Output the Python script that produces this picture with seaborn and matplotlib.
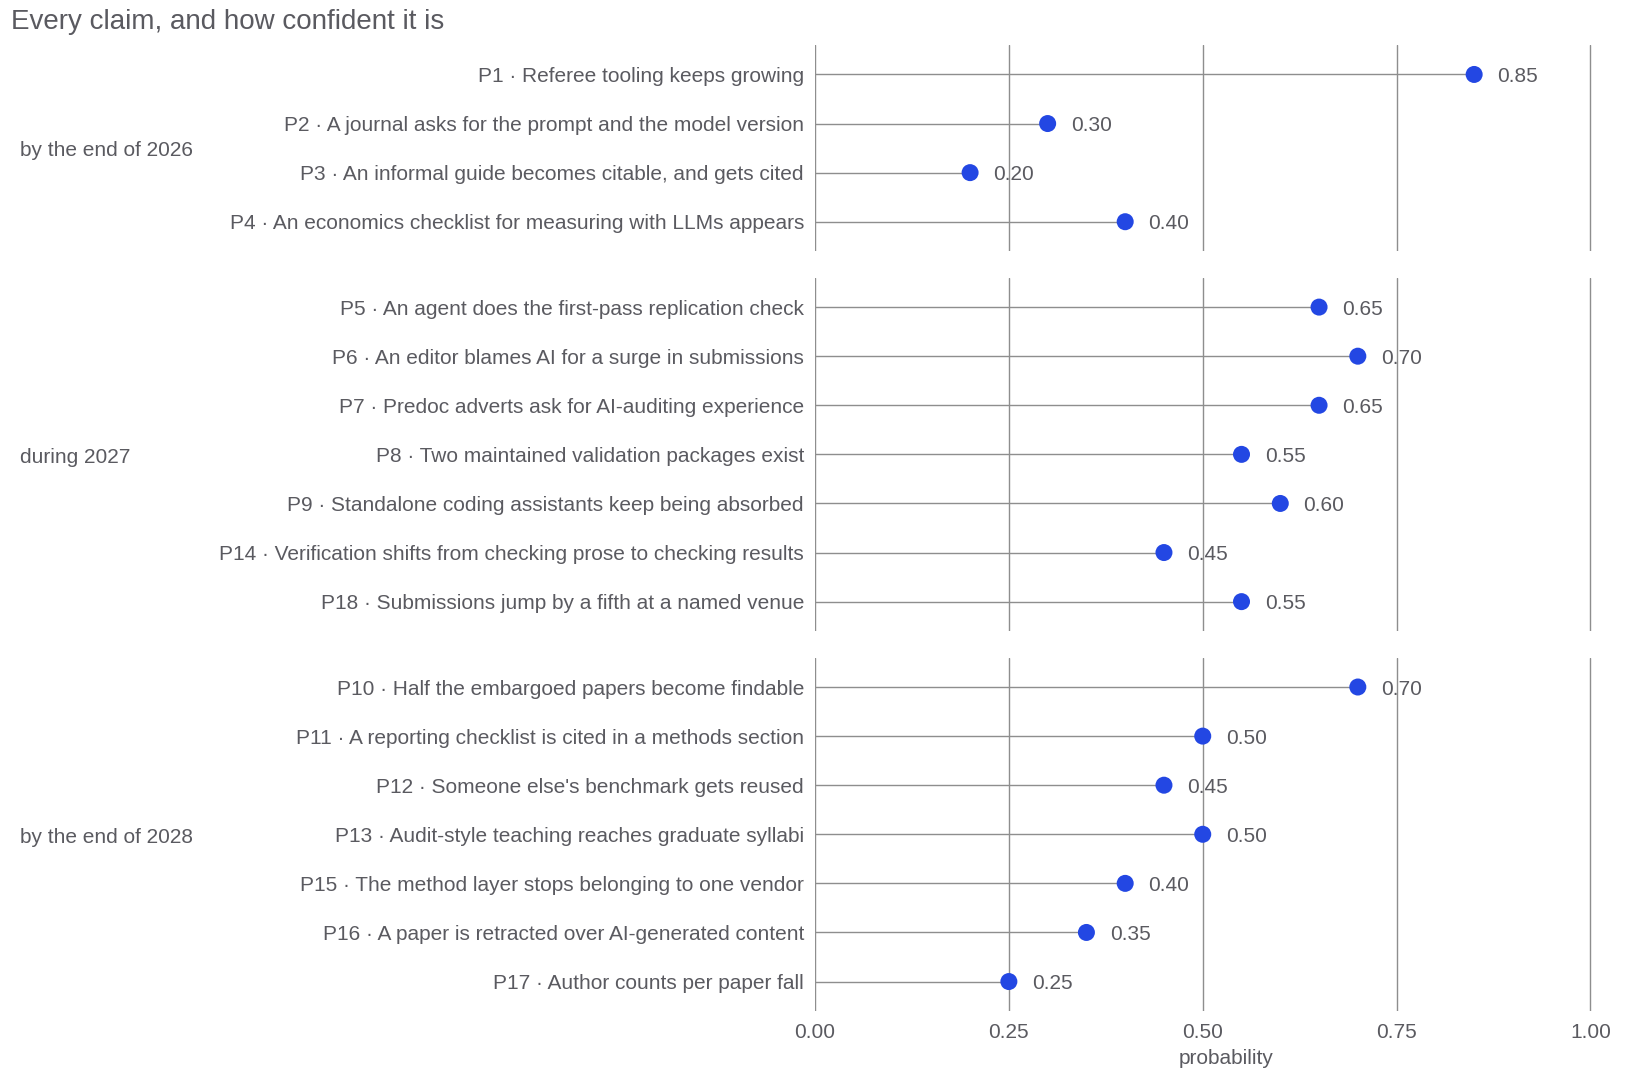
import numpy as np
import pandas as pd
import matplotlib
matplotlib.use("Agg")
import matplotlib.pyplot as plt
import seaborn as sns

# claims, grouped by horizon (order as shown top to bottom)
groups = ["by the end of 2026", "during 2027", "by the end of 2028"]

ids_2026 = ["P1", "P2", "P3", "P4"]
claims_2026 = [
    "Referee tooling keeps growing",
    "A journal asks for the prompt and the model version",
    "An informal guide becomes citable, and gets cited",
    "An economics checklist for measuring with LLMs appears",
]
prob_2026 = [0.85, 0.30, 0.20, 0.40]

ids_2027 = ["P5", "P6", "P7", "P8", "P9", "P14", "P18"]
claims_2027 = [
    "An agent does the first-pass replication check",
    "An editor blames AI for a surge in submissions",
    "Predoc adverts ask for AI-auditing experience",
    "Two maintained validation packages exist",
    "Standalone coding assistants keep being absorbed",
    "Verification shifts from checking prose to checking results",
    "Submissions jump by a fifth at a named venue",
]
prob_2027 = [0.65, 0.70, 0.65, 0.55, 0.60, 0.45, 0.55]

ids_2028 = ["P10", "P11", "P12", "P13", "P15", "P16", "P17"]
claims_2028 = [
    "Half the embargoed papers become findable",
    "A reporting checklist is cited in a methods section",
    "Someone else's benchmark gets reused",
    "Audit-style teaching reaches graduate syllabi",
    "The method layer stops belonging to one vendor",
    "A paper is retracted over AI-generated content",
    "Author counts per paper fall",
]
prob_2028 = [0.70, 0.50, 0.45, 0.50, 0.40, 0.35, 0.25]

x_ticks = [0.0, 0.25, 0.5, 0.75, 1.0]

frames = []
for g, ids, cl, pr in zip(groups,
                          [ids_2026, ids_2027, ids_2028],
                          [claims_2026, claims_2027, claims_2028],
                          [prob_2026, prob_2027, prob_2028]):
    frames.append(pd.DataFrame({
        "group": g,
        "label": [f"{i} \u00b7 {c}" for i, c in zip(ids, cl)],
        "probability": pr,
        "row": np.arange(len(ids)),
    }))
df = pd.concat(frames, ignore_index=True)

sns.set_theme(style="white")
plt.rcParams["font.family"] = ["Liberation Sans", "DejaVu Sans"]

TEXT = "#5a5a60"
GRID = "#8e8e8e"
DOT = "#2347e3"
FS = 15

W, H = 1651, 1075
fig = plt.figure(figsize=(W / 100, H / 100), dpi=100)

counts = [len(ids_2026), len(ids_2027), len(ids_2028)]
heights = [n - 1 + 1.2 for n in counts]
gs = fig.add_gridspec(3, 1, height_ratios=heights,
                      left=815 / W, right=1637 / W,
                      top=1 - 45 / H, bottom=1 - 1011 / H, hspace=0.087)

for k, g in enumerate(groups):
    ax = fig.add_subplot(gs[k])
    sub = df[df["group"] == g]
    ax.hlines(sub["row"], 0, sub["probability"], color=GRID, lw=1.0, zorder=2)
    sns.scatterplot(data=sub, x="probability", y="row", ax=ax, color=DOT,
                    s=150, edgecolor="none", zorder=3, legend=False)
    for _, r in sub.iterrows():
        ax.text(r["probability"] + 0.03, r["row"], f"{r['probability']:.2f}",
                ha="left", va="center_baseline", fontsize=FS, color=TEXT)
    ax.set_xlim(0, 1.06)
    ax.set_ylim(len(sub) - 0.4, -0.6)
    ax.set_yticks(sub["row"])
    ax.set_yticklabels(sub["label"], fontsize=FS, color=TEXT)
    ax.set_xticks(x_ticks)
    ax.grid(axis="x", color=GRID, lw=1.0)
    ax.grid(axis="y", visible=False)
    ax.set_axisbelow(True)
    for sp in ax.spines.values():
        sp.set_visible(False)
    ax.tick_params(axis="both", length=0, pad=8)
    ax.set_ylabel("")
    ax.annotate(g, xy=(20 / W, 0.49), xycoords=("figure fraction", "axes fraction"),
                ha="left", va="center", fontsize=FS, color=TEXT)
    if k < 2:
        ax.set_xticklabels([])
        ax.set_xlabel("")
    else:
        ax.set_xticklabels([f"{t:.2f}" for t in x_ticks], fontsize=FS, color=TEXT)
        ax.tick_params(axis="x", pad=9)
        ax.set_xlabel("probability", fontsize=FS, color=TEXT, labelpad=5)

fig.text(11 / W, 1 - 22 / H, "Every claim, and how confident it is",
         ha="left", va="center", fontsize=20, color=TEXT)

fig.savefig("out.png", dpi=100)
